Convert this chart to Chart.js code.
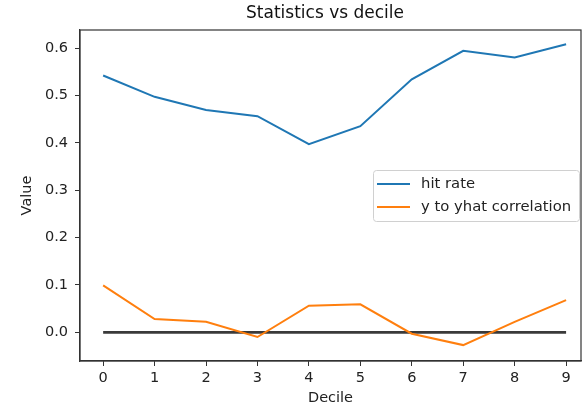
<!DOCTYPE html>
<html>
<head>
<meta charset="utf-8">
<script src="https://cdn.jsdelivr.net/npm/chart.js@4"></script>
<style>
  html, body { margin: 0; padding: 0; background: #fff; }
  #wrap { width: 583px; height: 407px; }
</style>
</head>
<body>
<div id="wrap"><canvas id="myChart" width="583" height="407"></canvas></div>
<script>
const deciles = [0, 1, 2, 3, 4, 5, 6, 7, 8, 9];
const hitRate = [0.542, 0.497, 0.469, 0.456, 0.397, 0.435, 0.534, 0.594, 0.580, 0.608];
const yToYhatCorr = [0.099, 0.028, 0.022, -0.010, 0.056, 0.059, -0.003, -0.027, 0.022, 0.068];
const zeroLine = [0, 0, 0, 0, 0, 0, 0, 0, 0, 0];
const yTicks = [0.0, 0.1, 0.2, 0.3, 0.4, 0.5, 0.6];
const chartTitle = 'Statistics vs decile';

const FONT = "'DejaVu Sans', sans-serif";

//frame round the plot area (top and right spines) + title over the axes
const framePlugin = {
  id: 'frame',
  afterDraw(chart) {
    const { ctx, chartArea: a } = chart;
    ctx.save();
    ctx.strokeStyle = '#333';
    ctx.lineWidth = 1.2;
    ctx.strokeRect(a.left, a.top, a.right - a.left, a.bottom - a.top);
    ctx.fillStyle = '#111';
    ctx.font = '17px ' + FONT;
    ctx.textAlign = 'center';
    ctx.textBaseline = 'middle';
    ctx.fillText(chartTitle, 325, 14);
    ctx.restore();
  }
};

//matplotlib-like legend inside the axes
const boxLegend = {
  id: 'boxLegend',
  afterDatasetsDraw(chart) {
    const ctx = chart.ctx;
    const items = chart.data.datasets.filter(d => d.label);
    const x = 373, y = 170, w = 206, h = 51;
    ctx.save();
    ctx.fillStyle = 'rgba(255,255,255,0.85)';
    ctx.strokeStyle = '#d0d0d0';
    ctx.lineWidth = 1;
    ctx.beginPath();
    ctx.roundRect(x + 0.5, y + 0.5, w, h, 3);
    ctx.fill();
    ctx.stroke();
    ctx.font = '14.8px ' + FONT;
    ctx.textBaseline = 'middle';
    items.forEach((d, i) => {
      const ly = y + 14 + i * 23;
      ctx.strokeStyle = d.borderColor;
      ctx.lineWidth = 2;
      ctx.beginPath();
      ctx.moveTo(x + 4, ly);
      ctx.lineTo(x + 37, ly);
      ctx.stroke();
      ctx.fillStyle = '#222';
      ctx.fillText(d.label, x + 48, ly);
    });
    ctx.restore();
  }
};

const data = {
  labels: deciles,
  datasets: [
    {
      label: 'hit rate',
      data: hitRate,
      borderColor: '#1f77b4',
      backgroundColor: '#1f77b4',
      borderWidth: 2,
      pointRadius: 0,
      tension: 0
    },
    {
      label: 'y to yhat correlation',
      data: yToYhatCorr,
      borderColor: '#ff7f0e',
      backgroundColor: '#ff7f0e',
      borderWidth: 2,
      pointRadius: 0,
      tension: 0
    },
    {
      label: '',
      data: zeroLine,
      borderColor: '#3a3a3a',
      borderWidth: 2.8,
      pointRadius: 0,
      borderCapStyle: 'butt'
    }
  ]
};

const config = {
  type: 'line',
  data: data,
  options: {
    responsive: false,
    animation: false,
    devicePixelRatio: 1,
    layout: { padding: { top: 30, right: 2, left: 0, bottom: 0 } },
    plugins: {
      legend: { display: false },
      tooltip: { enabled: false },
      title: { display: false }
    },
    scales: {
      x: {
        type: 'linear',
        min: -0.45,
        max: 9.29,
        afterBuildTicks: scale => { scale.ticks = deciles.map(v => ({ value: v })); },
        afterFit: scale => { scale.height = 46; },
        grid: { drawOnChartArea: false, drawTicks: true, tickLength: 5, tickColor: '#333' },
        border: { display: true, color: '#333', width: 1.2 },
        ticks: {
          color: '#222',
          padding: 4,
          maxRotation: 0,
          font: { family: FONT, size: 14.5 },
          callback: v => String(v)
        },
        title: {
          display: true,
          text: 'Decile',
          color: '#222',
          font: { family: FONT, size: 14.5 },
          padding: { top: 0, bottom: 0 }
        }
      },
      y: {
        min: -0.0606,
        max: 0.638,
        afterBuildTicks: scale => { scale.ticks = yTicks.map(v => ({ value: v })); },
        afterFit: scale => { scale.width = 80; },
        grid: { drawOnChartArea: false, drawTicks: true, tickLength: 5, tickColor: '#333' },
        border: { display: true, color: '#333', width: 1.2 },
        ticks: {
          color: '#222',
          padding: 7,
          font: { family: FONT, size: 14.5 },
          callback: v => v.toFixed(1)
        },
        title: {
          display: true,
          text: 'Value',
          color: '#222',
          font: { family: FONT, size: 14.5 },
          padding: { top: 19, bottom: 0 }
        }
      }
    }
  },
  plugins: [framePlugin, boxLegend]
};

const myChart = new Chart(document.getElementById('myChart'), config);
</script>
</body>
</html>
